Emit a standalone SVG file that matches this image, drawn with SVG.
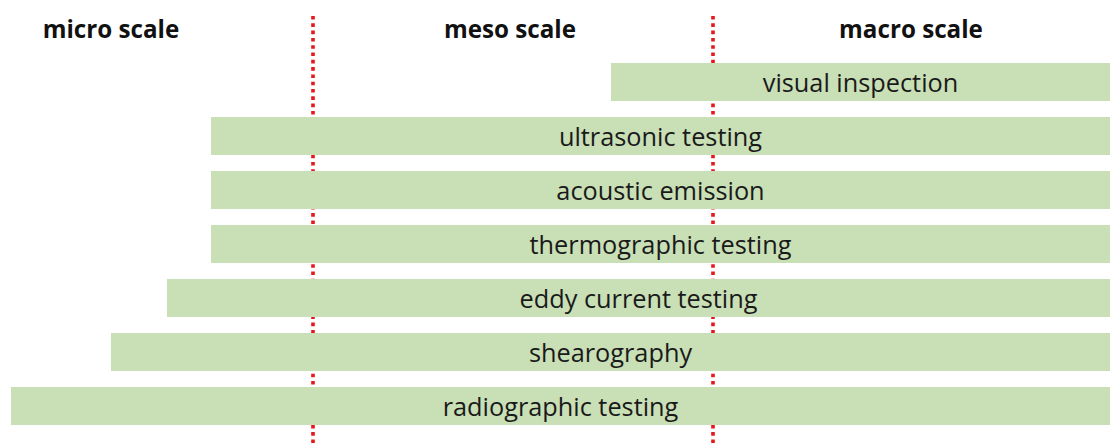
<svg xmlns="http://www.w3.org/2000/svg" width="1110" height="446" viewBox="0 0 1110 446">
  <style>
    .hdr { font-family: "Open Sans", "Liberation Sans", sans-serif; font-weight: bold; font-size: 24.2px; fill: #111; text-anchor: middle; }
    .bar { fill: #c9dfb6; }
    .lbl { font-family: "Open Sans", "Liberation Sans", sans-serif; font-size: 25.3px; fill: #1a1a1a; text-anchor: middle; }
    .div { stroke: #e8161b; stroke-width: 3.6; stroke-dasharray: 3.6 3.7; fill: none; }
  </style>
  <rect width="1110" height="446" fill="#ffffff"/>
  <!-- scale headers -->
  <g id="headers">
    <text class="hdr" x="111" y="38">micro scale</text>
    <text class="hdr" x="510" y="38">meso scale</text>
    <text class="hdr" x="911" y="38">macro scale</text>
  </g>
  <!-- dotted scale dividers -->
  <g id="dividers">
    <line class="div" x1="313" y1="16" x2="313" y2="446"/>
    <line class="div" x1="713" y1="16" x2="713" y2="446"/>
  </g>
  <!-- method range bars -->
  <g id="visual-inspection">
    <rect class="bar" x="611" y="63" width="499" height="38"/>
    <text class="lbl" x="860.5" y="92">visual inspection</text>
  </g>
  <g id="ultrasonic-testing">
    <rect class="bar" x="211" y="117" width="899" height="38"/>
    <text class="lbl" x="660.5" y="146">ultrasonic testing</text>
  </g>
  <g id="acoustic-emission">
    <rect class="bar" x="211" y="171" width="899" height="38"/>
    <text class="lbl" x="660.5" y="200">acoustic emission</text>
  </g>
  <g id="thermographic-testing">
    <rect class="bar" x="211" y="225" width="899" height="38"/>
    <text class="lbl" x="660.5" y="254">thermographic testing</text>
  </g>
  <g id="eddy-current-testing">
    <rect class="bar" x="167" y="279" width="943" height="38"/>
    <text class="lbl" x="638.5" y="308">eddy current testing</text>
  </g>
  <g id="shearography">
    <rect class="bar" x="111" y="333" width="999" height="38"/>
    <text class="lbl" x="610.5" y="362">shearography</text>
  </g>
  <g id="radiographic-testing">
    <rect class="bar" x="11" y="387" width="1099" height="38"/>
    <text class="lbl" x="560.5" y="416">radiographic testing</text>
  </g>
</svg>
